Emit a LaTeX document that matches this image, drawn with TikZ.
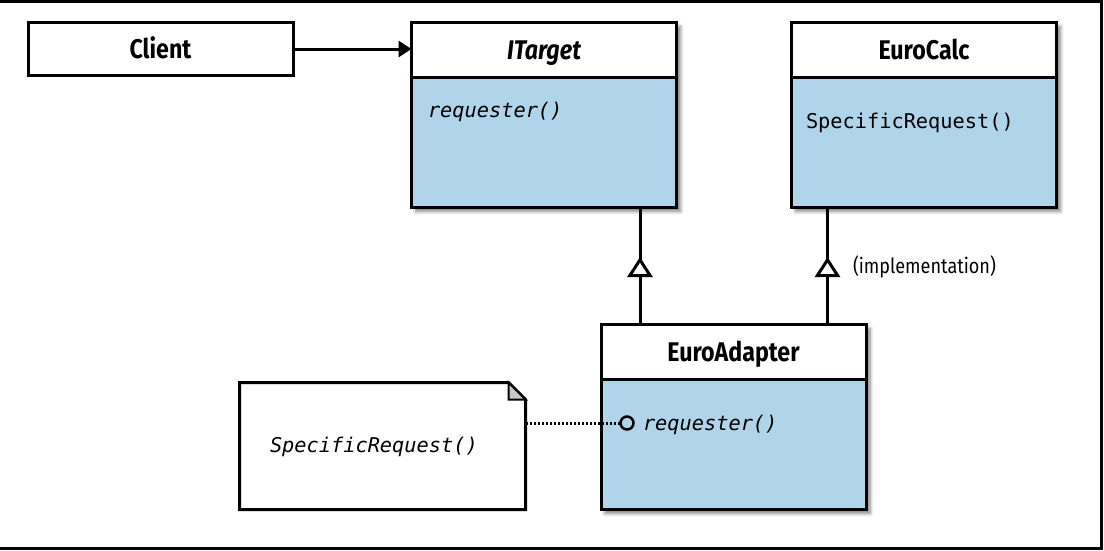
\documentclass[tikz,border=0pt]{standalone}
\usepackage{fontspec}
\usetikzlibrary{arrows.meta,shadows.blur,backgrounds,fit,decorations.markings,calc}
\newfontfamily\hfont[FakeStretch=0.86]{Fira Sans}
\newfontfamily\mfont{DejaVu Sans Mono}
\definecolor{clsblue}{RGB}{176,212,234}
\definecolor{foldgrey}{RGB}{200,200,200}
\begin{document}
\begin{tikzpicture}[x=1pt,y=-1pt, line width=3pt, outer sep=0pt,
  hdr/.style={draw, fill=white, minimum width=265pt, minimum height=55pt, inner sep=0pt,
    font=\hfont\bfseries\fontsize{27}{30}\selectfont, text height=19pt, text depth=0pt},
  bodybox/.style={draw, fill=clsblue, minimum width=265pt, minimum height=130pt, inner sep=0pt},
  shade/.style={inner sep=0pt, blur shadow={shadow xshift=4pt, shadow yshift=-4pt,
    shadow blur radius=3.5pt, shadow blur steps=6, shadow opacity=50}},
  meth/.style={anchor=base west, inner sep=0pt, font=\mfont\fontsize{20.3}{24}\selectfont},
  methit/.style={anchor=base west, inner sep=0pt, font=\mfont\itshape\fontsize{20.3}{24}\selectfont},
  gen/.style={postaction={decorate}, decoration={markings,
    mark=at position 67.5pt with {\arrow{Triangle[fill=white, length=20pt, width=25pt]}}}},
]
\useasboundingbox (0,0) rectangle (1104,550);
\draw[line width=2.5pt] (0,1.25) -- (1101.5,1.25) -- (1101.5,548.5) -- (0,548.5);

% Client
\node[hdr, minimum height=53pt] (client) at (160.5,49) {Client};

% ITarget
\node[hdr] (itH) at (544,50) {\itshape ITarget};
\node[bodybox, anchor=north] (itB) at (itH.south) {};
\node[methit] (itM) at (428,117) {requester()};

% EuroCalc
\node[hdr] (ecH) at (924,50) {EuroCalc};
\node[bodybox, anchor=north] (ecB) at (ecH.south) {};
\node[meth] (ecM) at (806,128) {SpecificRequest()};

% EuroAdapter
\node[hdr] (eaH) at (733.5,352) {EuroAdapter};
\node[bodybox, anchor=north] (eaB) at (eaH.south) {};
\node[circle, draw, fill=clsblue, line width=2.5pt, minimum size=13pt, inner sep=0pt] (pt) at (627,423) {};
\node[methit] (eaM) at (643,430) {requester()};

% shadows
\begin{scope}[on background layer]
  \node[shade, fit=(itH)(itB)] (itS) {};
  \node[shade, fit=(ecH)(ecB)] (ecS) {};
  \node[shade, fit=(eaH)(eaB)] (eaS) {};
\end{scope}

% note
\node[minimum width=286pt, minimum height=127pt, inner sep=0pt] (note) at (382.5,446) {};
\draw[line join=miter] (note.north west) -- ($(note.north east)+(-17,0)$) -- ($(note.north east)+(0,17)$)
  -- (note.south east) -- (note.south west) -- cycle;
\draw[line width=2pt, fill=foldgrey] ($(note.north east)+(-17,0)$) -- ($(note.north east)+(-17,17)$)
  -- ($(note.north east)+(0,17)$) -- cycle;
\node[methit] (noteT) at (270,452) {SpecificRequest()};
\draw[line width=3pt, dash pattern=on 2.2pt off 1.8pt] (note.east |- pt) -- (pt.west);

% connectors
\draw[-{Triangle[length=13pt,width=16pt]}] (client.east) -- (client.east -| itH.west);
\coordinate (g1) at (640,0);
\coordinate (g2) at (827.5,0);
\draw[gen] (eaH.north -| g1) -- (itB.south -| g1);
\draw[gen] (eaH.north -| g2) -- (ecB.south -| g2);
\node[anchor=base west, inner sep=0pt, font=\hfont\fontsize{21}{24}\selectfont] (impl) at (853,273) {(implementation)};
\end{tikzpicture}
\end{document}
